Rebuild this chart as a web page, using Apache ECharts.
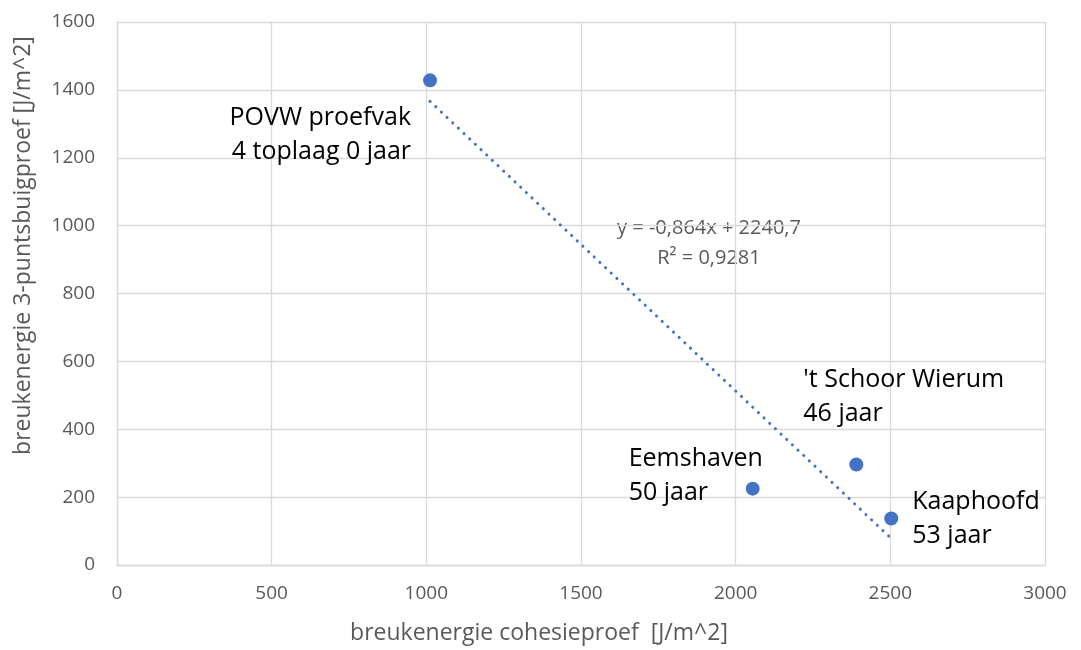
<!DOCTYPE html>
<html>
<head>
<meta charset="utf-8">
<script src="https://cdn.jsdelivr.net/npm/echarts@6/dist/echarts.min.js"></script>
<style>
  html, body { margin: 0; padding: 0; background: #ffffff; }
  #chart { width: 1081px; height: 650px; }
</style>
</head>
<body>
<div id="chart"></div>
<script>
// Test sections: name, age line, fracture energies
const siteNames = ['POVW proefvak', 'Eemshaven', "'t Schoor Wierum", 'Kaaphoofd'];
const siteAges = ['4 toplaag 0 jaar', '50 jaar', '46 jaar', '53 jaar'];
const cohesionEnergy = [1012, 2055, 2390, 2503];   // breukenergie cohesieproef [J/m^2]
const bendingEnergy = [1428, 225, 296, 137];       // breukenergie 3-puntsbuigproef [J/m^2]

// Linear trendline as stated in the equation label
const trendSlope = -0.864;
const trendIntercept = 2240.7;
const trendSlopeText = '-0,864';
const trendInterceptText = '2240,7';
const trendR2Text = '0,9281';

// Axis ranges
const xMin = 0, xMax = 3000, xStep = 500;
const yMin = 0, yMax = 1600, yStep = 200;

const blue = '#4472C4';
const gridGray = '#D9D9D9';
const textGray = '#595959';
const labelFont = '"Open Sans", "Noto Sans", sans-serif';

// Label placement around each point: [align, dx, dy]
const labelPlacement = [
  ['right', -19, 55],
  ['left', -124, -13],
  ['left', -53, -68],
  ['left', 21, 0]
];

const scatterData = cohesionEnergy.map((x, i) => ({
  value: [x, bendingEnergy[i]],
  label: {
    show: true,
    position: 'inside',
    align: labelPlacement[i][0],
    verticalAlign: 'middle',
    offset: [labelPlacement[i][1], labelPlacement[i][2]],
    formatter: siteNames[i] + '\n' + siteAges[i],
    fontFamily: labelFont,
    fontSize: 25,
    lineHeight: 34,
    color: '#000000',
    textBorderWidth: 0,
    textBorderColor: 'transparent'
  }
}));

const tx0 = Math.min(...cohesionEnergy);
const tx1 = Math.max(...cohesionEnergy);
const trendData = [
  [tx0, trendSlope * tx0 + trendIntercept],
  [tx1, trendSlope * tx1 + trendIntercept]
];

const plainNumber = v => String(v);

const chart = echarts.init(document.getElementById('chart'), null, { renderer: 'canvas' });

chart.setOption({
  animation: false,
  backgroundColor: '#ffffff',
  grid: { left: 117, right: 36, top: 22, bottom: 82, containLabel: false },
  xAxis: {
    type: 'value',
    min: xMin, max: xMax, interval: xStep,
    name: 'breukenergie cohesieproef  [J/m^2]',
    nameLocation: 'middle',
    nameGap: 57,
    nameTextStyle: { fontFamily: labelFont, fontSize: 23, color: textGray, padding: [0, 84, 0, 0] },
    axisLine: { show: true, lineStyle: { color: gridGray, width: 1.3 } },
    axisTick: { show: false },
    axisLabel: { fontFamily: labelFont, fontSize: 19, color: textGray, margin: 19, formatter: plainNumber },
    splitLine: { show: true, lineStyle: { color: gridGray, width: 1.3 } }
  },
  yAxis: {
    type: 'value',
    min: yMin, max: yMax, interval: yStep,
    name: 'breukenergie 3-puntsbuigproef [J/m^2]',
    nameLocation: 'middle',
    nameGap: 82,
    nameTextStyle: { fontFamily: labelFont, fontSize: 23, color: textGray, padding: [0, 0, 0, 96] },
    axisLine: { show: true, lineStyle: { color: gridGray, width: 1.3 } },
    axisTick: { show: false },
    axisLabel: { fontFamily: labelFont, fontSize: 19, color: textGray, margin: 22, formatter: plainNumber },
    splitLine: { show: true, lineStyle: { color: gridGray, width: 1.3 } }
  },
  series: [
    {
      name: 'trend',
      type: 'line',
      data: trendData,
      symbol: 'none',
      silent: true,
      z: 2,
      lineStyle: { color: blue, width: 3, type: [0.1, 7.7], cap: 'round' }
    },
    {
      name: 'metingen',
      type: 'scatter',
      data: scatterData,
      symbol: 'circle',
      symbolSize: 14,
      z: 3,
      itemStyle: { color: blue, opacity: 1 }
    }
  ],
  graphic: [
    {
      type: 'text',
      x: 709, y: 228,
      style: {
        text: 'y = ' + trendSlopeText + 'x + ' + trendInterceptText,
        fill: textGray, font: '20px ' + labelFont,
        align: 'center', verticalAlign: 'middle'
      }
    },
    {
      type: 'text',
      x: 709, y: 258,
      style: {
        text: 'R² = ' + trendR2Text,
        fill: textGray, font: '20px ' + labelFont,
        align: 'center', verticalAlign: 'middle'
      }
    }
  ]
});
</script>
</body>
</html>
